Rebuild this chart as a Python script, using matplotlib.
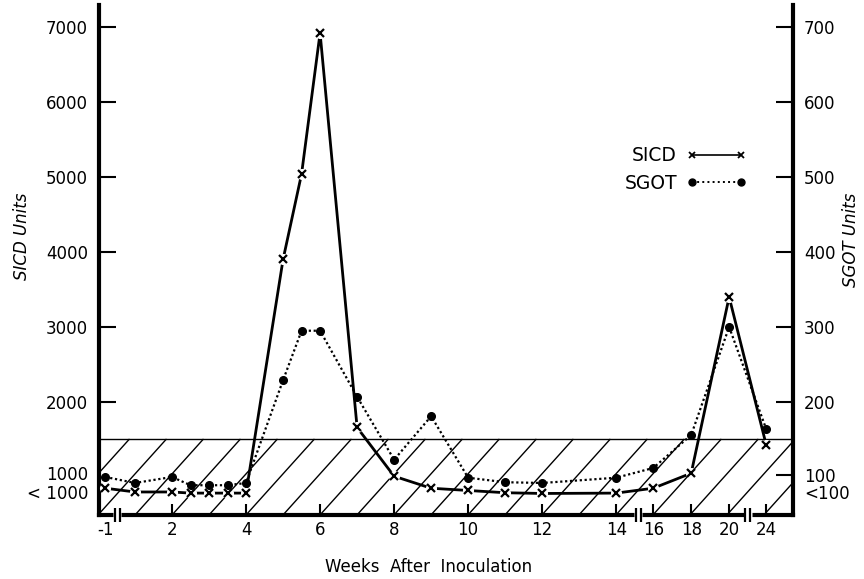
import numpy as np
import matplotlib
matplotlib.use('Agg')
import matplotlib.pyplot as plt
from matplotlib.lines import Line2D
from matplotlib import transforms

# data
sicd_weeks = [-1, 1, 2, 2.5, 3, 3.5, 4, 5, 5.5, 6, 7, 8, 9, 10, 11, 12, 14, 16, 18, 20, 24]
sicd_units = [850, 800, 800, 785, 785, 785, 785, 3900, 5040, 6920, 1660, 1010, 850, 820, 790, 780, 785, 850, 1050, 3400, 1430]
sgot_weeks = [-1, 1, 2, 2.5, 3, 3.5, 4, 5, 5.5, 6, 7, 8, 9, 10, 11, 12, 14, 16, 18, 20, 24]
sgot_units = [100, 92, 100, 89, 89, 89, 92, 229, 295, 295, 207, 123, 181, 99, 93, 92, 99, 112, 156, 300, 164]

week_ticks = [-1, 2, 4, 6, 8, 10, 12, 14, 16, 18, 20, 24]
week_breaks = [-0.2, 15.2, 22]
normal_limit = 1500

sicd_ticks = [800, 1050, 2000, 3000, 4000, 5000, 6000, 7000]
sicd_labels = ['< 1000', '1000', '2000', '3000', '4000', '5000', '6000', '7000']
sgot_ticks = [80, 102, 200, 300, 400, 500, 600, 700]
sgot_labels = ['<100', '100', '200', '300', '400', '500', '600', '700']

# broken time axis: weeks -> plotting position
week_anchor = [-3, -1, 1, 14, 16, 20, 24, 28]
pos_anchor = [-0.6, 0.2, 1.0, 14.0, 15.0, 17.05, 18.05, 19.05]


def fwd(w):
    return np.interp(w, week_anchor, pos_anchor)


def inv(p):
    return np.interp(p, pos_anchor, week_anchor)


plt.rcParams['font.family'] = ['DejaVu Sans']

fig = plt.figure(figsize=(8.64, 5.79), dpi=100)
ax = fig.add_axes([99 / 864, 1 - 515 / 579, 694 / 864, 510 / 579])
ax.set_xscale('function', functions=(fwd, inv))
ax.set_xlim(-1.43, 26.9)
ax.set_ylim(493, 7293)

ax2 = ax.twinx()
ax2.set_ylim(49.3, 729.3)

# spines
for s in ['top', 'right']:
    ax.spines[s].set_visible(False)
for s in ['top', 'left', 'bottom']:
    ax2.spines[s].set_visible(False)
ax.spines['left'].set_linewidth(3.0)
ax.spines['bottom'].set_linewidth(3.0)
ax2.spines['right'].set_linewidth(3.0)

# hatched "normal" band
ax.axhline(normal_limit, color='black', lw=1.0, zorder=1)
hx, hy = [], []
for k in range(-12, 12):
    xt = 0.523 + k * 0.0533
    hx += [xt - 0.098, xt, np.nan]
    hy += [493, normal_limit, np.nan]
ax.plot(hx, hy, color='black', lw=1.0, transform=ax.get_yaxis_transform(), zorder=1)

# SICD series
ax.plot(sicd_weeks, sicd_units, color='black', lw=2.0, zorder=3)
ax.plot(sicd_weeks, sicd_units, ls='none', marker='o', ms=8, mfc='white', mec='none', zorder=4)
ax.plot(sicd_weeks, sicd_units, ls='none', marker='x', ms=5.5, mew=1.6, color='black', zorder=5)

# SGOT series
ax2.plot(sgot_weeks, sgot_units, color='black', lw=1.6, ls=(0, (1, 1.2)), marker='o', ms=5.5, zorder=3)

# ticks
ax.set_xticks(week_ticks)
ax.set_xticklabels([str(w) for w in week_ticks])
ax.xaxis.set_minor_locator(matplotlib.ticker.NullLocator())
ax.tick_params(axis='x', direction='in', length=8, width=1.5, labelsize=12, pad=4)
ax.xaxis.get_major_ticks()[0].tick1line.set_visible(False)

ax.set_yticks(sicd_ticks)
ax.set_yticklabels(sicd_labels)
ax.yaxis.set_minor_locator(matplotlib.ticker.NullLocator())
ax.tick_params(axis='y', direction='in', length=12, width=1.5, labelsize=12, pad=8)
ax.yaxis.get_major_ticks()[0].tick1line.set_visible(False)
ax.yaxis.get_major_ticks()[1].tick1line.set_visible(False)

ax2.set_yticks(sgot_ticks)
ax2.set_yticklabels(sgot_labels)
ax2.yaxis.set_minor_locator(matplotlib.ticker.NullLocator())
ax2.tick_params(axis='y', direction='in', length=12, width=1.5, labelsize=12, pad=8)
ax2.yaxis.get_major_ticks()[0].tick2line.set_visible(False)

# axis breaks
xt = ax.get_xaxis_transform()
for b in week_breaks:
    ax.plot([b], [0], marker='s', ms=6, mfc='white', mec='none', transform=xt, clip_on=False, zorder=6)
    for dx in (-2.5, 2.5):
        tr = transforms.offset_copy(xt, fig=fig, x=dx, y=0, units='dots')
        ax.plot([b], [0], marker='|', ms=10, mew=1.6, color='black', transform=tr, clip_on=False, zorder=7)

# labels
fig.text(429 / 864, 1 - 567 / 579, 'Weeks  After  Inoculation', ha='center', va='center', fontsize=12)
fig.text(22 / 864, 1 - 236 / 579, 'SICD Units', rotation=90, ha='center', va='center', fontsize=12, style='italic')
fig.text(851 / 864, 1 - 240 / 579, 'SGOT Units', rotation=90, ha='center', va='center', fontsize=12, style='italic')

handles = [Line2D([], [], color='black', lw=1.2, marker='x', ms=4, mew=1.3),
           Line2D([], [], color='black', lw=1.4, ls=':', marker='o', ms=5)]
ax.legend(handles, ['SICD', 'SGOT'], loc='upper right', bbox_to_anchor=(0.957, 0.756),
          markerfirst=False, numpoints=2, frameon=False, fontsize=13.5,
          handlelength=3.2, handletextpad=0.5, labelspacing=0.45)

fig.savefig('out.png', dpi=100)
